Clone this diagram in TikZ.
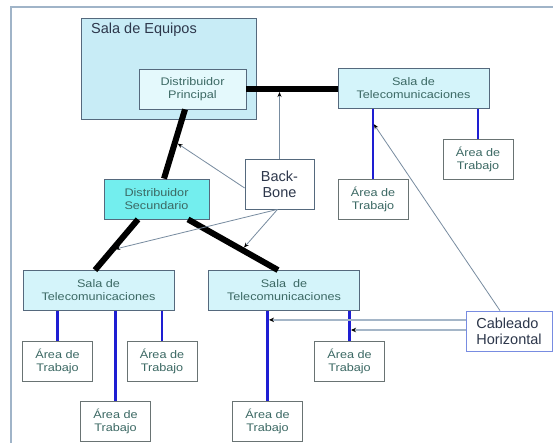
\documentclass[tikz,border=0pt]{standalone}
\usepackage{fontspec}
\setmainfont{Liberation Sans}
\newfontfamily\nfont[FakeStretch=1.15]{Liberation Sans}
\usetikzlibrary{arrows.meta,calc}
\definecolor{framec}{RGB}{160,180,200}
\definecolor{equipf}{RGB}{200,236,246}
\definecolor{princf}{RGB}{228,249,252}
\definecolor{secf}{RGB}{115,238,238}
\definecolor{salaf}{RGB}{212,244,250}
\definecolor{boxd}{RGB}{85,105,125}
\definecolor{aread}{RGB}{105,115,115}
\definecolor{cabd}{RGB}{120,140,225}
\definecolor{tealtext}{RGB}{60,105,100}
\definecolor{darktext}{RGB}{45,55,75}
\definecolor{bluel}{RGB}{30,30,210}
\definecolor{thinc}{RGB}{120,140,160}
\definecolor{horc}{RGB}{165,182,200}
\tikzset{
  box/.style={draw=boxd, line width=0.8pt, inner sep=0pt, align=center,
    text=tealtext, font=\nfont\fontsize{11}{13}\selectfont},
  salabox/.style={box, fill=salaf, minimum width=151pt, minimum height=40pt},
  areabox/.style={box, draw=aread, fill=white, minimum width=70pt, minimum height=40pt},
  bigtext/.style={text=darktext, font=\fontsize{14.5}{16}\selectfont, align=left},
  bluelink/.style={draw=bluel, line width=2.5pt},
  thicklink/.style={draw=black, line width=6pt},
  thinarrow/.style={draw=thinc, line width=0.8pt, -{Stealth[length=5pt,width=4pt,color=black]}},
  horarrow/.style={draw=horc, line width=2pt, -{Stealth[length=5pt,width=4.5pt,color=black]}},
}
\begin{document}
\begin{tikzpicture}[x=1pt,y=-1pt]
\useasboundingbox (0,0) rectangle (553,443);
\fill[white] (0,0) rectangle (553,443);
\draw[framec, line width=2.5pt] (11,443) -- (11,7) -- (553,7);

% Sala de Equipos
\node[draw=boxd, line width=0.8pt, fill=equipf, minimum width=175pt, minimum height=101pt, inner sep=0pt] (equipos) at (168.5,68.5) {};
\node[bigtext, anchor=west, inner sep=0pt] (equiposlbl) at (91,30) {Sala de Equipos};

\node[box, fill=princf, minimum width=107pt, minimum height=40pt] (principal) at (192.5,89) {Distribuidor\\Principal};
\node[box, fill=secf, minimum width=105pt, minimum height=40pt] (secundario) at (156.5,199) {Distribuidor\\Secundario};
\node[box, fill=white, minimum width=69pt, minimum height=50pt, bigtext, align=center] (backbone) at (279.5,184) {Back-\\Bone};

\node[salabox] (salaTR) at (413.5,88.5) {Sala de\\Telecomunicaciones};
\node[salabox] (salaBL) at (98.5,290.5) {Sala de\\Telecomunicaciones};
\node[salabox] (salaBM) at (284,290.5) {Sala \ de\\Telecomunicaciones};

\node[areabox] (aTR) at (478,159) {Área de\\Trabajo};
\node[areabox] (aTM) at (373,199.5) {Área de\\Trabajo};
\node[areabox] (a1) at (57.5,361.5) {Área de\\Trabajo};
\node[areabox] (a2) at (115.5,421) {Área de\\Trabajo};
\node[areabox] (a3) at (162,361.5) {Área de\\Trabajo};
\node[areabox] (a4) at (267.5,421) {Área de\\Trabajo};
\node[areabox] (a5) at (349.5,361.5) {Área de\\Trabajo};

\node[draw=cabd, line width=0.8pt, fill=white, minimum width=86pt, minimum height=40pt, inner sep=0pt, bigtext] (cableado) at (509,331) {Cableado\\Horizontal};

% blue links
\foreach \s/\a in {salaTR/aTR, salaTR/aTM, salaBL/a1, salaBL/a2, salaBL/a3, salaBM/a4, salaBM/a5}
  \draw[bluelink] (\a.north |- \s.south) -- (\a.north);

% thick backbone links
\draw[thicklink] (principal.east) -- (principal.east -| salaTR.west);
\draw[thicklink] ([xshift=-7.5pt]principal.south) -- ([xshift=7.5pt]secundario.north);
\draw[thicklink] ([xshift=-18.5pt]secundario.south) -- ([xshift=-3.5pt]salaBL.north);
\draw[thicklink] ([xshift=31.5pt]secundario.south) -- ([xshift=-6pt]salaBM.north);

% points on links
\coordinate (t1) at ($(principal.east)!0.36!(principal.east -| salaTR.west)$);
\coordinate (t2) at ($([xshift=-7.5pt]principal.south)!0.47!([xshift=7.5pt]secundario.north)$);
\coordinate (t3) at ($([xshift=-18.5pt]secundario.south)!0.6!([xshift=-3.5pt]salaBL.north)$);
\coordinate (t4) at ($([xshift=31.5pt]secundario.south)!0.6!([xshift=-6pt]salaBM.north)$);
\coordinate (b1) at ($(aTM.north |- salaTR.south)!0.2!(aTM.north)$);
\coordinate (c1) at ($(a4.north |- salaBM.south)!0.1!(a4.north)$);
\coordinate (c2) at ($(a5.north |- salaBM.south)!0.633!(a5.north)$);

% back-bone arrows
\draw[thinarrow, shorten >=3pt] (backbone.north) -- (backbone.north |- t1);
\draw[thinarrow, shorten >=3pt] ([yshift=-4pt]backbone.west) -- (t2);
\draw[thinarrow, shorten >=3pt] ([xshift=-2pt]backbone.south) -- (t3);
\draw[thinarrow, shorten >=3pt] ([xshift=-2pt]backbone.south) -- (t4);

% cableado horizontal arrows
\draw[thinarrow, shorten >=1.5pt] ([xshift=-9pt]cableado.north) -- (b1);
\draw[horarrow, shorten >=1.5pt] (cableado.west |- c1) -- (c1);
\draw[horarrow, shorten >=1.5pt] (cableado.west |- c2) -- (c2);
\end{tikzpicture}
\end{document}
